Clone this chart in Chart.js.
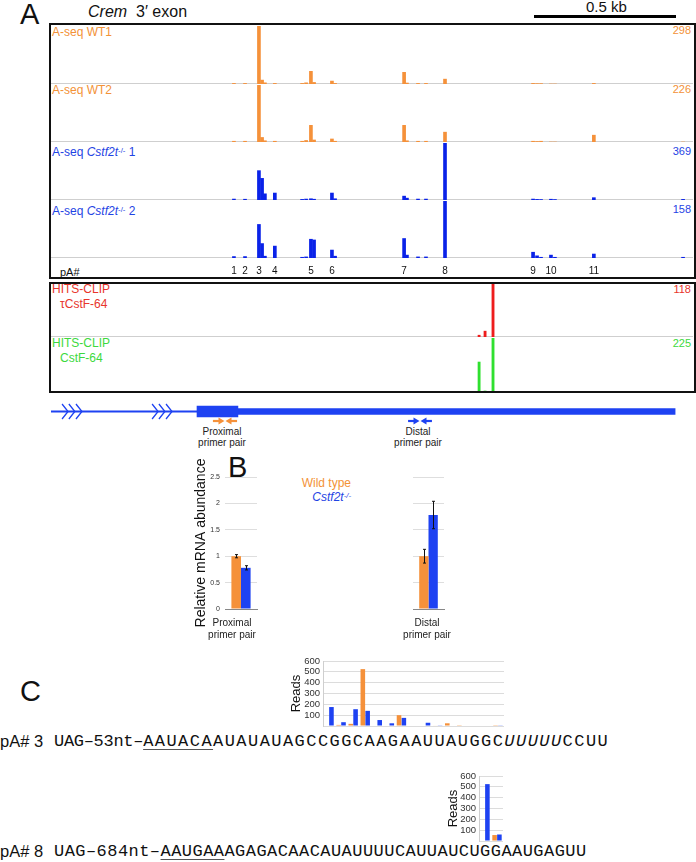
<!DOCTYPE html>
<html><head><meta charset="utf-8">
<script src="https://cdn.jsdelivr.net/npm/chart.js@4.4.0/dist/chart.umd.min.js"></script>
<style>
html,body{margin:0;padding:0;background:#fff}
body{width:696px;height:862px;position:relative;overflow:hidden;font-family:"Liberation Sans",Arial,Helvetica,sans-serif;color:#111}
.t{position:absolute;white-space:nowrap}
.box{position:absolute;border:2px solid #111;box-sizing:border-box}
.seq{font-family:"Liberation Mono","Courier New",monospace}
sup{font-size:65%;vertical-align:0;position:relative;top:-0.45em}
</style></head><body>

<div class="t" style="left:20px;top:0px;font-size:29px;line-height:29px">A</div>
<div class="t" style="left:88px;top:4px;font-size:16px;line-height:16px"><i>Crem</i>&nbsp; 3′ exon</div>
<div class="t" style="left:586px;top:-1px;font-size:15px;line-height:15px">0.5 kb</div>
<div style="position:absolute;left:534px;top:15px;width:142px;height:3px;background:#000"></div>

<div class="box" style="left:49px;top:23px;width:647px;height:256px"></div>
<div class="box" style="left:49px;top:282px;width:647px;height:111px"></div>

<div class="t" style="left:52px;top:26px;font-size:12px;line-height:12px;color:#F39237">A-seq WT1</div>
<div class="t" style="right:5px;top:24px;font-size:11px;line-height:12px;color:#F39237">298</div>
<div class="t" style="left:52px;top:84px;font-size:12px;line-height:12px;color:#F39237">A-seq WT2</div>
<div class="t" style="right:5px;top:83px;font-size:11px;line-height:12px;color:#F39237">226</div>
<div class="t" style="left:52px;top:146px;font-size:12px;line-height:12px;color:#1F44E4">A-seq <i>Cstf2t</i><sup>-/-</sup> 1</div>
<div class="t" style="right:5px;top:145px;font-size:11px;line-height:12px;color:#1F44E4">369</div>
<div class="t" style="left:52px;top:205px;font-size:12px;line-height:12px;color:#1F44E4">A-seq <i>Cstf2t</i><sup>-/-</sup> 2</div>
<div class="t" style="right:5px;top:203px;font-size:11px;line-height:12px;color:#1F44E4">158</div>
<div class="t" style="left:60px;top:266px;font-size:11px;line-height:12px;color:#111">pA#</div>

<div class="t" style="left:52px;top:283px;font-size:12px;line-height:12px;color:#E8352C">HITS-CLIP</div>
<div class="t" style="left:60px;top:298px;font-size:12px;line-height:12px;color:#E8352C">τCstF-64</div>
<div class="t" style="right:5px;top:283px;font-size:11px;line-height:12px;color:#E8352C">118</div>
<div class="t" style="left:52px;top:337px;font-size:12px;line-height:12px;color:#3DD93D">HITS-CLIP</div>
<div class="t" style="left:60px;top:352px;font-size:12px;line-height:12px;color:#3DD93D">CstF-64</div>
<div class="t" style="right:5px;top:337px;font-size:11px;line-height:12px;color:#3DD93D">225</div>

<div class="t" style="left:172px;width:100px;text-align:center;top:426px;font-size:10px;line-height:11px;color:#222">Proximal<br>primer pair</div>
<div class="t" style="left:368px;width:100px;text-align:center;top:426px;font-size:10px;line-height:11px;color:#222">Distal<br>primer pair</div>

<div class="t" style="left:228px;top:453px;font-size:29px;line-height:29px">B</div>
<div class="t" style="right:345px;top:477px;font-size:12px;line-height:12px;color:#F39237">Wild type</div>
<div class="t" style="right:345px;top:491px;font-size:12px;line-height:12px;color:#1F44E4"><i>Cstf2t<sup>-/-</sup></i></div>

<div class="t" style="left:20px;top:677px;font-size:29px;line-height:29px">C</div>
<div class="t" style="left:0px;top:733px;font-size:16.5px;line-height:17px">pA# 3</div>
<div class="t seq" style="left:54px;top:733px;font-size:17px;line-height:18px"><span style="letter-spacing:-0.3px">UAG–53nt–</span><span style="letter-spacing:1.45px"><span style="text-decoration:underline;text-decoration-color:#555;text-underline-offset:3px">AAUACA</span>AUAUAUAGCCGGCAAGAAUUAUGGC<i>UUUUU</i>CCUU</span></div>
<div class="t" style="left:0px;top:843px;font-size:16.5px;line-height:17px">pA# 8</div>
<div class="t seq" style="left:54px;top:843px;font-size:17px;line-height:18px;letter-spacing:0.45px">UAG–684nt–<span style="text-decoration:underline;text-decoration-color:#555;text-underline-offset:3px">AAUGAA</span>AGAGACAACAUAUUUUCAUUAUCUGGAAUGAGUU</div>

<script>
// ---------------- DATA ----------------
// Panel A: genomic window (bp) and A-seq coverage
const BP_MAX = 2260;
const trackPositions = [644,683,732,743,753,788,884,898,915,926,989,1000,1243,1253,1292,1320,1387,1697,1711,1725,1760,1774,1911,2225];
const wt1Reads = [3,3,298,20,6,3,3,6,65,8,15,3,60,5,3,3,25,3,2,2,0,0,3,0];
const wt2Reads = [3,3,226,18,5,3,3,6,66,8,12,3,66,5,3,3,39,3,2,3,0,0,27,0];
const ko1Reads = [6,5,190,140,40,45,4,6,8,5,45,8,25,12,6,6,369,6,4,3,5,3,15,4];
const ko2Reads = [4,4,93,40,5,33,2,3,52,50,22,5,54,8,3,3,158,16,6,2,8,2,11,2];
const trackScaleMax = [298,226,369,158];
const pAPositions = [644,683,732,788,915,989,1243,1387,1697,1760,1911];
const pALabels = ['1','2','3','4','5','6','7','8','9','10','11'];
// HITS-CLIP
const clipPositions = [1507,1528,1556];
const tauCstF64Reads = [4,13,118];
const cstF64Reads = [123,0,225];
const clipScaleMax = [118,225];
// Gene model (bp)
const geneIntron = [0,514];
const geneCDS = [514,658];
const geneUTR = [658,2197];
const chevronPositions = [60,84,109,377,401,426];
const proximalPrimers = [570,655];
const distalPrimers = [1257,1341];
// Panel B: qRT-PCR
const qpcrCategories = [['Proximal','primer pair'],['Distal','primer pair']];
const wtAbundance = [1.0,1.0];
const wtError = [0.03,0.13];
const koAbundance = [0.78,1.78];
const koError = [0.04,0.26];
// Panel C: reads at nucleotide positions
const pA3Sites = ['1','2','3','4','5','6','7','8','9','10','11','12','13','14','15'];
const pA3WT = [0,10,20,525,0,0,100,0,0,5,25,2,0,0,2];
const pA3KO = [175,35,155,140,55,25,75,0,30,3,0,0,0,0,3];
const pA8Sites = ['1','2'];
const pA8WT = [0,55];
const pA8KO = [525,60];

// ---------------- STYLE ----------------
const ORANGE = '#F5913A';
const TRACK_BLUE = '#0A22E8';
const BLUE = '#1E42F2';
const RED = '#EE1C1C';
const GREEN = '#2FE02F';
Chart.defaults.font.family = '"Liberation Sans", Arial, sans-serif';
Chart.defaults.color = '#222';
Chart.defaults.animation = false;
Chart.defaults.layout.autoPadding = false;

function mk(left, top, w, h){
  const c = document.createElement('canvas');
  c.width = w; c.height = h;
  c.style.cssText = `position:absolute;left:${left}px;top:${top}px;width:${w}px;height:${h}px`;
  document.body.appendChild(c);
  return c;
}
// fix an axis box size and drop the label-overflow padding it asks of the layout
function fixBox(size){
  return s => {
    if (s.isHorizontal()) s.height = size; else s.width = size;
    s.paddingLeft = 0; s.paddingRight = 0; s.paddingTop = 0; s.paddingBottom = 0;
  };
}

const baseline = {
  id:'baseline',
  beforeDatasetsDraw(chart, args, opts){
    if (!opts || !opts.color) return;
    const {ctx, chartArea:a} = chart;
    ctx.save(); ctx.strokeStyle = opts.color; ctx.lineWidth = 1;
    ctx.beginPath(); ctx.moveTo(0, a.bottom - 0.5); ctx.lineTo(chart.width, a.bottom - 0.5); ctx.stroke();
    ctx.restore();
  }
};

function track(cv, positions, values, max, color, thick, line, pAaxis){
  const x = {type:'linear', min:0, max:BP_MAX, offset:false, display:false};
  if (pAaxis){
    Object.assign(x, {
      display:true,
      grid:{display:false, drawTicks:false},
      border:{display:false},
      ticks:{autoSkip:false, maxRotation:0, padding:7, font:{size:10}, color:'#111',
             callback:(v,i)=>pALabels[i]},
      afterBuildTicks:s=>{ s.ticks = pAPositions.map(v=>({value:v})); },
      afterFit:fixBox(16)
    });
  }
  return new Chart(cv, {
    type:'bar',
    data:{datasets:[{data:positions.map((p,i)=>({x:p, y:values[i]})), backgroundColor:color, barThickness:thick, borderWidth:0}]},
    options:{
      responsive:false, maintainAspectRatio:false, animation:false,
      layout:{padding:0, autoPadding:false},
      plugins:{legend:{display:false}, tooltip:{enabled:false}, baseline:{color:line}},
      scales:{x, y:{min:0, max:max, display:false}}
    },
    plugins:[baseline]
  });
}

// Panel A tracks
track(mk(51,26,642,58), trackPositions, wt1Reads, trackScaleMax[0], ORANGE, 3, '#cfcfcf');
track(mk(51,85,642,57), trackPositions, wt2Reads, trackScaleMax[1], ORANGE, 3, '#cfcfcf');
track(mk(51,143,642,57), trackPositions, ko1Reads, trackScaleMax[2], TRACK_BLUE, 3, '#cfcfcf');
track(mk(51,201,642,73), trackPositions, ko2Reads, trackScaleMax[3], TRACK_BLUE, 3, '#cfcfcf', true);
// HITS-CLIP tracks
track(mk(51,284,642,53), clipPositions, tauCstF64Reads, clipScaleMax[0], RED, 2.2, '#cfcfcf');
track(mk(51,338,642,53), clipPositions, cstF64Reads, clipScaleMax[1], GREEN, 2.2, null);

// Gene model
const geneDecor = {
  id:'geneDecor',
  afterDatasetsDraw(chart){
    const {ctx, chartArea:a, scales:{x}} = chart;
    const cy = (a.top + a.bottom)/2;
    ctx.save();
    ctx.strokeStyle = BLUE; ctx.lineWidth = 1.3;
    chevronPositions.forEach(p=>{
      const px = x.getPixelForValue(p);
      ctx.beginPath(); ctx.moveTo(px-6, cy-7.5); ctx.lineTo(px, cy); ctx.lineTo(px-6, cy+7.5); ctx.stroke();
    });
    function arrow(x0, x1, y, col){
      const dir = Math.sign(x1-x0);
      ctx.strokeStyle = col; ctx.fillStyle = col; ctx.lineWidth = 2.2;
      ctx.beginPath(); ctx.moveTo(x0, y); ctx.lineTo(x1 - dir*4, y); ctx.stroke();
      ctx.beginPath(); ctx.moveTo(x1, y); ctx.lineTo(x1 - dir*6, y-3.5); ctx.lineTo(x1 - dir*6, y+3.5); ctx.closePath(); ctx.fill();
    }
    [[proximalPrimers, ORANGE],[distalPrimers, BLUE]].forEach(([pr, col])=>{
      const l = x.getPixelForValue(pr[0]), r = x.getPixelForValue(pr[1]);
      const m = (l+r)/2;
      arrow(l, m-0.5, cy+9.5, col);
      arrow(r, m+0.5, cy+9.5, col);
    });
    ctx.restore();
  }
};
new Chart(mk(51,396,642,31), {
  type:'bar',
  data:{labels:['Crem'], datasets:[
    {data:[geneIntron], backgroundColor:BLUE, barThickness:1.5, grouped:false},
    {data:[geneCDS], backgroundColor:BLUE, barThickness:11, grouped:false},
    {data:[geneUTR], backgroundColor:BLUE, barThickness:6, grouped:false}
  ]},
  options:{
    indexAxis:'y', responsive:false, animation:false, layout:{padding:0, autoPadding:false},
    plugins:{legend:{display:false}, tooltip:{enabled:false}},
    scales:{x:{type:'linear', min:0, max:BP_MAX, display:false}, y:{display:false}}
  },
  plugins:[geneDecor]
});

// Panel B
const errorBars = {
  id:'errorBars',
  afterDatasetsDraw(chart){
    const ctx = chart.ctx, ys = chart.scales.y;
    chart.data.datasets.forEach((ds, di)=>{
      if (!ds.errors) return;
      chart.getDatasetMeta(di).data.forEach((bar, i)=>{
        const v = ds.data[i], e = ds.errors[i];
        const t = ys.getPixelForValue(v+e), b = ys.getPixelForValue(v-e);
        const bx = Math.round(bar.x) + 0.5;
        ctx.save(); ctx.strokeStyle = '#111'; ctx.lineWidth = 1;
        ctx.beginPath();
        ctx.moveTo(bx, t); ctx.lineTo(bx, b);
        ctx.moveTo(bx-1.5, t); ctx.lineTo(bx+1.5, t);
        ctx.moveTo(bx-1.5, b); ctx.lineTo(bx+1.5, b);
        ctx.stroke(); ctx.restore();
      });
    });
  }
};
function qpcr(cv, idx, withAxis, axisW, rightPad, labelShift){
  return new Chart(cv, {
    type:'bar',
    data:{labels:[qpcrCategories[idx]], datasets:[
      {label:'Wild type', data:[wtAbundance[idx]], errors:[wtError[idx]], backgroundColor:ORANGE, categoryPercentage:0.6, barPercentage:1},
      {label:'Cstf2t-/-', data:[koAbundance[idx]], errors:[koError[idx]], backgroundColor:BLUE, categoryPercentage:0.6, barPercentage:1}
    ]},
    options:{
      responsive:false, animation:false,
      layout:{padding:{top:22, right:rightPad, left:0, bottom:0}, autoPadding:false},
      plugins:{legend:{display:false}, tooltip:{enabled:false}},
      scales:{
        x:{grid:{display:false, drawTicks:false}, border:{color:'#888'},
           ticks:{font:{size:10}, color:'#222', padding:8, maxRotation:0, autoSkip:false, labelOffset:labelShift},
           afterFit:fixBox(31)},
        y:{min:0, max:2.5, grid:{color:'#dedede', drawTicks:false}, border:{display:false},
           ticks:{display:withAxis, stepSize:0.5, autoSkip:false, font:{size:7}, color:'#333', padding:5,
                  callback:v=>String(+v.toFixed(1))},
           title:{display:withAxis, text:'Relative mRNA abundance', font:{size:14}, color:'#111'},
           afterFit:fixBox(axisW)}
      }
    },
    plugins:[errorBars]
  });
}
qpcr(mk(189,455,93,185), 0, true, 36, 25, -9);
qpcr(mk(388,455,81,185), 1, false, 25, 25, -1.5);

// Panel C
function readsChart(cv, labels, wt, ko, axisW){
  return new Chart(cv, {
    type:'bar',
    data:{labels, datasets:[
      {label:'Wild type', data:wt, backgroundColor:ORANGE, categoryPercentage:0.8, barPercentage:0.95},
      {label:'Cstf2t-/-', data:ko, backgroundColor:BLUE, categoryPercentage:0.8, barPercentage:0.95}
    ]},
    options:{
      responsive:false, animation:false,
      layout:{padding:{top:6, right:1, bottom:1, left:0}, autoPadding:false},
      plugins:{legend:{display:false}, tooltip:{enabled:false}},
      scales:{
        x:{display:false},
        y:{min:0, max:600, grid:{color:'#dcdcdc', drawTicks:false}, border:{color:'#cfcfcf'},
           ticks:{stepSize:100, autoSkip:false, font:{size:9.5}, color:'#333', padding:3, callback:v=> v===0 ? '' : v},
           title:{display:true, text:'Reads', font:{size:13}, color:'#111'},
           afterFit:fixBox(axisW)}
      }
    }
  });
}
readsChart(mk(285,655,220,72), pA3Sites, pA3WT, pA3KO, 38);
readsChart(mk(442,770,62,72), pA8Sites, pA8WT, pA8KO, 37);
</script>
</body></html>
